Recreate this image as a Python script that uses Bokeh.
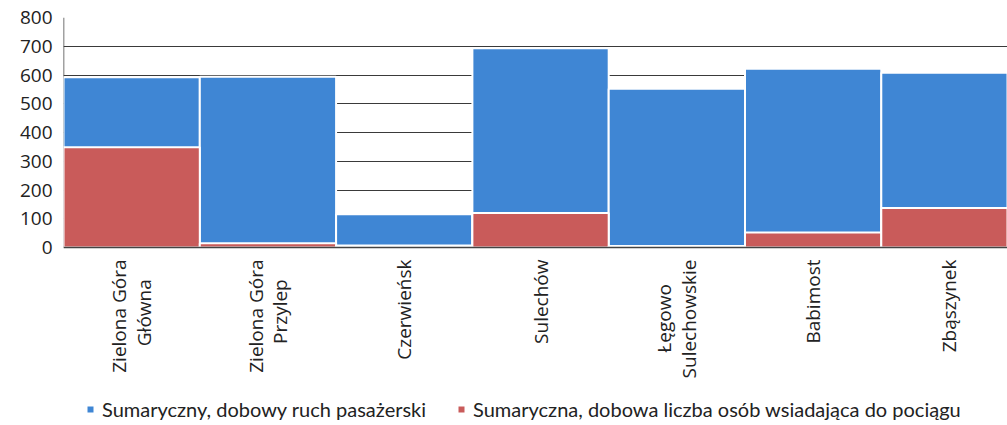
import math
from bokeh.plotting import figure
from bokeh.models import (ColumnDataSource, Range1d, FixedTicker, Legend, LegendItem, Span)
from bokeh.core.properties import value
from bokeh.embed import file_html
from bokeh.resources import INLINE

NB = "\u00a0"
stations = ["Zielona Góra\nGłówna" + NB * 4, "Zielona Góra\nPrzylep" + NB * 4, "Czerwieńsk", "Sulechów",
            "Łęgowo" + NB * 5 + "\nSulechowskie", "Babimost", "Zbąszynek"]
ruch_pasazerski = [592, 594, 116, 693, 552, 622, 608]
wsiadajacy = [349, 15, 7, 120, 5, 52, 137]
y_ticks = [0, 100, 200, 300, 400, 500, 600, 700, 800]

BLUE = "#3f86d4"
RED = "#c95b5a"

# layout: the frame extends below the zero line so the category labels and
# legend can live inside it (chart part: 800 -> 0 occupies 230 px)
FRAME_H = 408
CHART_H = 230
px_per_unit = CHART_H / (max(y_ticks) - min(y_ticks))
y_bottom = min(y_ticks) - (FRAME_H - CHART_H) / px_per_unit
label_y = min(y_ticks) - 12 / px_per_unit

idx = list(range(len(stations)))
src = ColumnDataSource(dict(x=idx, total=ruch_pasazerski, board=wsiadajacy,
                            name=stations, ly=[label_y] * len(idx)))

p = figure(frame_width=944, frame_height=FRAME_H, output_backend="svg", toolbar_location=None,
           x_range=Range1d(-0.5, 6.426), y_range=Range1d(y_bottom, max(y_ticks)),
           x_axis_location=None,
           min_border_left=63, min_border_right=0, min_border_top=17, min_border_bottom=0)

p.outline_line_color = None
p.background_fill_color = "white"
p.border_fill_color = "white"

# left border of the plot area (behind bars)
border = p.segment(x0=[p.x_range.start], y0=[min(y_ticks)], x1=[p.x_range.start], y1=[max(y_ticks)],
                   line_color="#444444", line_width=1.5)
border.level = "underlay"

r1 = p.vbar(x="x", top="total", bottom=0, width=1.0, source=src,
            fill_color=BLUE, line_color="white", line_width=2)
r2 = p.vbar(x="x", top="board", bottom=0, width=1.0, source=src,
            fill_color=RED, line_color="white", line_width=2)

# baseline
p.add_layout(Span(location=min(y_ticks), dimension="width", line_color="#444444", line_width=1.5))

# category labels (vertical, reading bottom to top)
p.text(x="x", y="ly", text="name", source=src, angle=math.pi / 2,
       text_align="right", text_baseline="middle",
       text_font=value("Open Sans"), text_font_size=value("19px"),
       text_color="#222222", text_line_height=0.95)

# y axis
p.yaxis.ticker = FixedTicker(ticks=y_ticks)
p.yaxis.axis_line_color = None
p.yaxis.major_tick_line_color = None
p.yaxis.minor_tick_line_color = None
p.yaxis.major_tick_out = 0
p.yaxis.minor_tick_out = 0
p.yaxis.major_label_text_font = "Open Sans"
p.yaxis.major_label_text_font_size = "19px"
p.yaxis.major_label_text_color = "#222222"
p.yaxis.major_label_standoff = 11

p.xgrid.grid_line_color = None
p.ygrid.ticker = FixedTicker(ticks=y_ticks)
p.ygrid.grid_line_color = "#3a3a3a"
p.ygrid.grid_line_width = 1

legend = Legend(items=[
    LegendItem(label="Sumaryczny, dobowy ruch pasażerski", renderers=[r1]),
    LegendItem(label="Sumaryczna, dobowa liczba osób wsiadająca do pociągu", renderers=[r2]),
], orientation="horizontal", location=(22, 4))
legend.label_text_font = "Lato"
legend.label_text_font_size = "20px"
legend.label_text_color = "#222222"
legend.label_height = 16
legend.glyph_width = 10
legend.glyph_height = 10
legend.label_standoff = 7
legend.spacing = 30
legend.border_line_color = None
legend.background_fill_alpha = 0
legend.margin = 0
legend.padding = 0
p.add_layout(legend, "center")

open("out.html", "w").write(file_html(p, INLINE))
